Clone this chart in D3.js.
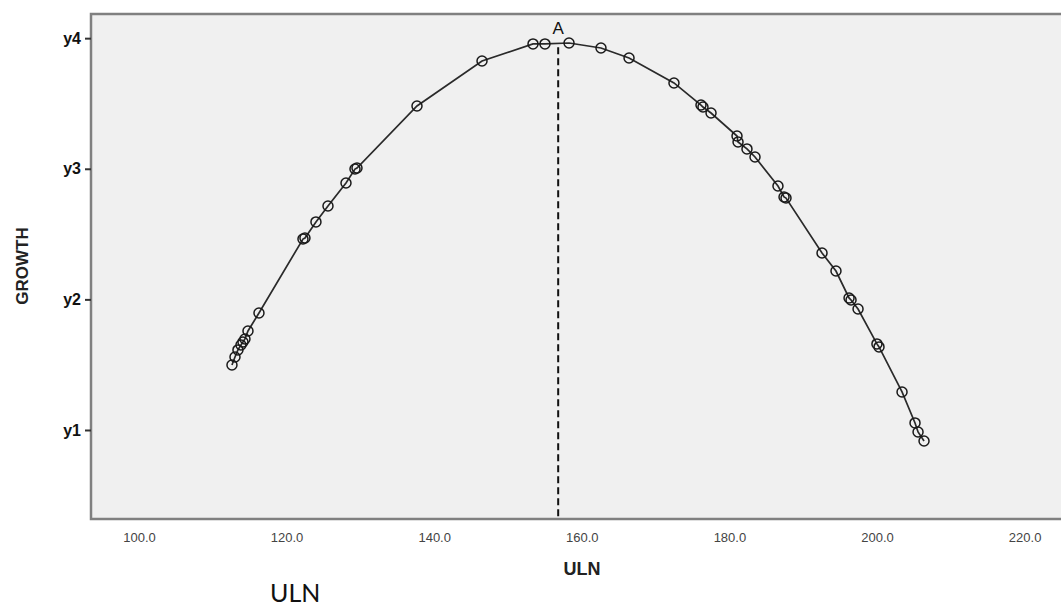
<!DOCTYPE html>
<html>
<head>
<meta charset="utf-8">
<script src="https://cdnjs.cloudflare.com/ajax/libs/d3/7.8.5/d3.min.js"></script>
<style>
  body { margin: 0; background: #fff; }
  svg { display: block; }
</style>
</head>
<body>
<div id="chart"></div>
<script>
// ULN vs GROWTH
var uln = [112.60, 113.01, 113.41, 113.82, 114.09, 114.36, 114.77, 116.26,
           122.22, 122.49, 123.98, 125.61, 128.05, 129.27, 129.54, 137.67,
           146.48, 153.39, 155.01, 158.27, 162.60, 166.40, 172.49, 176.15,
           176.42, 177.51, 181.03, 181.17, 182.38, 183.47, 186.58, 187.40,
           187.67, 192.55, 194.44, 196.21, 196.48, 197.43, 199.99, 200.27,
           203.39, 205.15, 205.56, 206.37];
var growth = [1.498, 1.559, 1.613, 1.651, 1.674, 1.697, 1.758, 1.896,
              2.462, 2.470, 2.593, 2.715, 2.891, 2.998, 3.006, 3.481,
              3.825, 3.956, 3.956, 3.963, 3.925, 3.848, 3.657, 3.488,
              3.473, 3.427, 3.251, 3.205, 3.152, 3.090, 2.868, 2.784,
              2.776, 2.355, 2.217, 2.011, 1.995, 1.926, 1.659, 1.636,
              1.291, 1.054, 0.985, 0.916];
var xTicks = [100, 120, 140, 160, 180, 200, 220];
var yTicks = [1, 2, 3, 4];
var yTickLabels = ["y1", "y2", "y3", "y4"];
var peakX = 156.8;     // point A
var peakTop = 3.93;

var width = 1061, height = 609;
var plot = {left: 91, right: 1063, top: 14, bottom: 519};

var x = d3.scaleLinear()
    .domain([93.5, 225.2])
    .range([plot.left, plot.right]);
var y = d3.scaleLinear()
    .domain([0.3185, 4.185])
    .range([plot.bottom, plot.top]);

var svg = d3.select("#chart").append("svg")
    .attr("width", width)
    .attr("height", height);

svg.append("rect")
    .attr("x", plot.left)
    .attr("y", plot.top)
    .attr("width", plot.right - plot.left)
    .attr("height", plot.bottom - plot.top)
    .attr("fill", "#f0f0f0")
    .attr("stroke", "#808080")
    .attr("stroke-width", 2.5);

// y axis
var yAxis = d3.axisLeft(y)
    .tickValues(yTicks)
    .tickSize(6)
    .tickPadding(4)
    .tickFormat((d, i) => yTickLabels[i]);
var gy = svg.append("g")
    .attr("transform", "translate(" + plot.left + ",0)")
    .call(yAxis);
gy.select(".domain").remove();
gy.selectAll("line").attr("stroke", "#333").attr("stroke-width", 2);
gy.selectAll("text")
    .attr("font-family", "Liberation Sans, Arial, sans-serif")
    .attr("font-size", 16)
    .attr("font-weight", "bold")
    .attr("fill", "#111");

// x axis
var xAxis = d3.axisBottom(x)
    .tickValues(xTicks)
    .tickSize(0)
    .tickPadding(14)
    .tickFormat(d3.format(".1f"));
var gx = svg.append("g")
    .attr("transform", "translate(0," + plot.bottom + ")")
    .call(xAxis);
gx.select(".domain").remove();
gx.selectAll("text")
    .attr("font-family", "Liberation Sans, Arial, sans-serif")
    .attr("font-size", 13)
    .attr("fill", "#444");

// axis titles
svg.append("text")
    .attr("x", 582).attr("y", 575)
    .attr("text-anchor", "middle")
    .attr("font-family", "Liberation Sans, Arial, sans-serif")
    .attr("font-size", 18).attr("font-weight", "bold")
    .attr("fill", "#222")
    .text("ULN");
svg.append("text")
    .attr("transform", "translate(28,266) rotate(-90)")
    .attr("text-anchor", "middle")
    .attr("font-family", "Liberation Sans, Arial, sans-serif")
    .attr("font-size", 17).attr("font-weight", "bold")
    .attr("fill", "#222")
    .text("GROWTH");

// dashed line at A
svg.append("line")
    .attr("x1", x(peakX)).attr("x2", x(peakX))
    .attr("y1", y(peakTop)).attr("y2", plot.bottom)
    .attr("stroke", "#111")
    .attr("stroke-width", 2)
    .attr("stroke-dasharray", "7,4");
svg.append("text")
    .attr("x", x(peakX)).attr("y", 34)
    .attr("text-anchor", "middle")
    .attr("font-family", "Liberation Sans, Arial, sans-serif")
    .attr("font-size", 17)
    .attr("fill", "#111")
    .text("A");

// curve
var pts = uln.map((d, i) => [d, growth[i]]);
var line = d3.line()
    .x(d => x(d[0]))
    .y(d => y(d[1]));
svg.append("path")
    .datum(pts)
    .attr("d", line)
    .attr("fill", "none")
    .attr("stroke", "#2a2a2a")
    .attr("stroke-width", 1.7);

svg.selectAll("circle.pt").data(pts).enter().append("circle")
    .attr("class", "pt")
    .attr("cx", d => x(d[0]))
    .attr("cy", d => y(d[1]))
    .attr("r", 5)
    .attr("fill", "none")
    .attr("stroke", "#1a1a1a")
    .attr("stroke-width", 1.5);

// caption under the chart
svg.append("text")
    .attr("x", 270).attr("y", 602)
    .attr("font-family", "Lato, Noto Sans, sans-serif")
    .attr("font-size", 25)
    .attr("fill", "#111")
    .text("ULN");
</script>
</body>
</html>
